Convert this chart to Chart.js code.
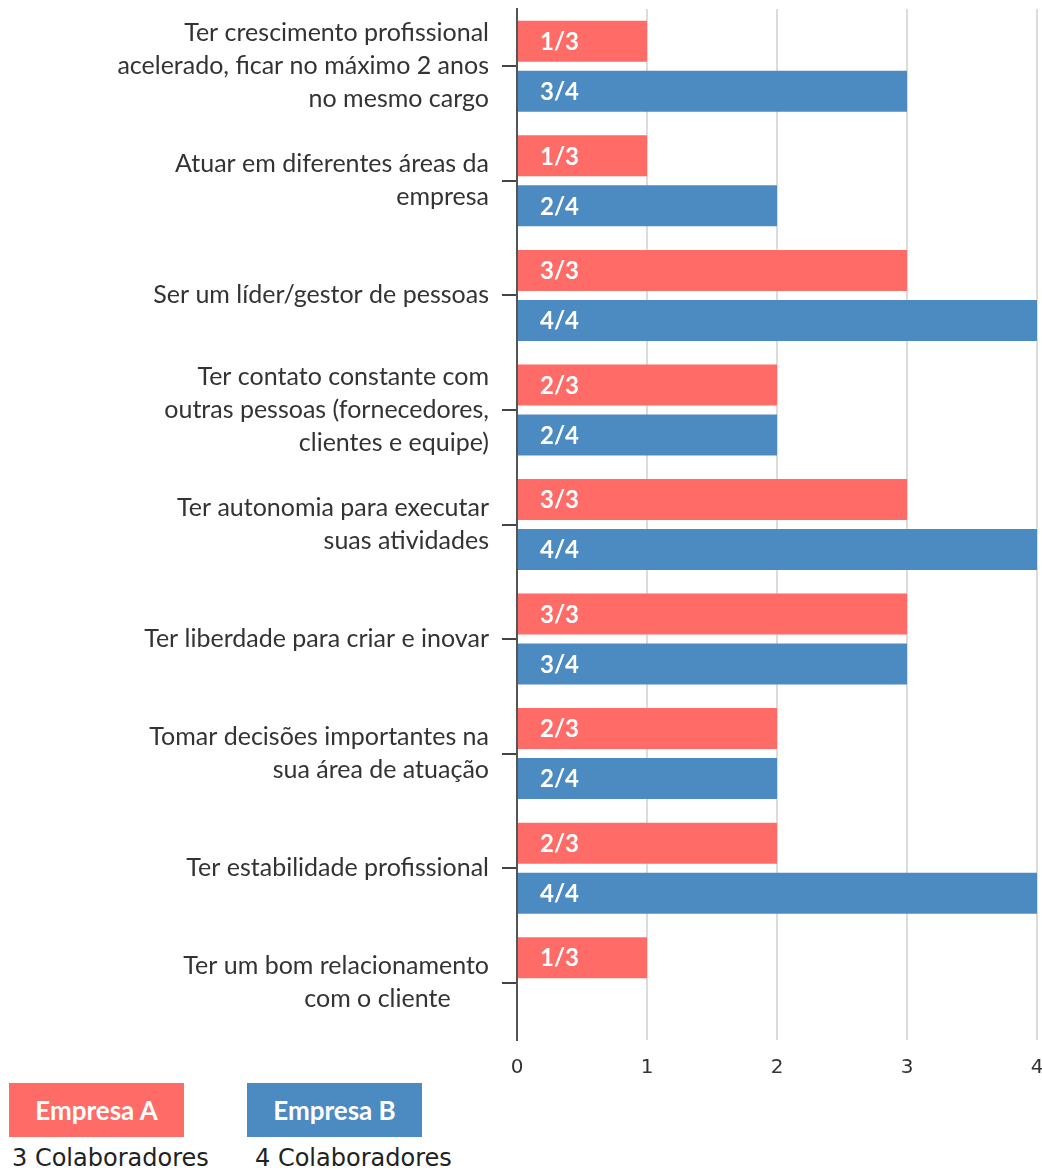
<!DOCTYPE html>
<html>
<head>
<meta charset="utf-8">
<script src="https://cdn.jsdelivr.net/npm/chart.js@4.4.1/dist/chart.umd.min.js"></script>
<style>
    body { margin: 0; background: #fff; width: 1042px; height: 1176px; position: relative; overflow: hidden; }
    #chartWrap { position: absolute; left: 0; top: 0; width: 1042px; height: 1096px; }
    .legend-box { position: absolute; top: 1083px; height: 54px; color: #fff; font-family: Lato, sans-serif; font-weight: bold; font-size: 26px; line-height: 54px; text-align: center; }
    .legend-sub { position: absolute; top: 1144px; font-family: "DejaVu Sans", sans-serif; font-size: 24px; color: #222; }
</style>
</head>
<body>
<div id="chartWrap"><canvas id="goalsChart"></canvas></div>

<div class="legend-box" id="legendA" style="left: 9px; width: 175px;"></div>
<div class="legend-box" id="legendB" style="left: 247px; width: 175px;"></div>
<div class="legend-sub" id="subA" style="left: 12px;"></div>
<div class="legend-sub" id="subB" style="left: 255px;"></div>

<script>
// Categories (y axis labels, multi-line)
const categories = [
    ['Ter crescimento profissional', 'acelerado, ficar no máximo 2 anos', 'no mesmo cargo'],
    ['Atuar em diferentes áreas da', 'empresa'],
    ['Ser um líder/gestor de pessoas'],
    ['Ter contato constante com', 'outras pessoas (fornecedores,', 'clientes e equipe)'],
    ['Ter autonomia para executar', 'suas atividades'],
    ['Ter liberdade para criar e inovar'],
    ['Tomar decisões importantes na', 'sua área de atuação'],
    ['Ter estabilidade profissional'],
    ['Ter um bom relacionamento', 'com o cliente      ']
];

// Series
const seriesNames = ['Empresa A', 'Empresa B'];
const empresaA = [1, 1, 3, 2, 3, 3, 2, 2, 1];
const empresaB = [3, 2, 4, 2, 4, 3, 2, 4, null];
const totals = [3, 4];
const colors = ['#FF6B66', '#4C8BC2'];

// X axis ticks
const xTicks = [0, 1, 2, 3, 4];

// Legend under the chart
document.getElementById('legendA').textContent = seriesNames[0];
document.getElementById('legendA').style.background = colors[0];
document.getElementById('legendB').textContent = seriesNames[1];
document.getElementById('legendB').style.background = colors[1];
document.getElementById('subA').textContent = totals[0] + ' Colaboradores';
document.getElementById('subB').textContent = totals[1] + ' Colaboradores';

// Draw "1/3", "3/4"... inside the bars
const barLabels = {
    id: 'barLabels',
    afterDatasetsDraw(chart) {
        const ctx = chart.ctx;
        ctx.save();
        ctx.fillStyle = '#fff';
        ctx.font = 'bold 24px Lato, sans-serif';
        ctx.textAlign = 'left';
        ctx.textBaseline = 'middle';
        chart.data.datasets.forEach((ds, di) => {
            const meta = chart.getDatasetMeta(di);
            meta.data.forEach((bar, i) => {
                const v = ds.data[i];
                if (v === null || v === undefined) return;
                ctx.fillText(v + '/' + totals[di], bar.base + 22, bar.y + 1);
            });
        });
        ctx.restore();
    }
};

const ctx = document.getElementById('goalsChart').getContext('2d');

new Chart(ctx, {
    type: 'bar',
    data: {
        labels: categories,
        datasets: [
            {
                label: seriesNames[0],
                data: empresaA,
                backgroundColor: colors[0],
                categoryPercentage: 0.873,
                barPercentage: 0.82
            },
            {
                label: seriesNames[1],
                data: empresaB,
                backgroundColor: colors[1],
                categoryPercentage: 0.873,
                barPercentage: 0.82
            }
        ]
    },
    options: {
        indexAxis: 'y',
        responsive: true,
        maintainAspectRatio: false,
        animation: false,
        layout: {
            padding: { top: 9, right: 0, left: 0, bottom: 0 }
        },
        plugins: {
            legend: { display: false },
            tooltip: { enabled: false }
        },
        scales: {
            x: {
                min: xTicks[0],
                max: xTicks[xTicks.length - 1],
                afterBuildTicks: scale => {
                    scale.ticks = xTicks.map(v => ({ value: v }));
                },
                afterFit: scale => {
                    scale.paddingLeft = 0;
                    scale.paddingRight = 5;
                },
                ticks: {
                    color: '#333',
                    padding: 16,
                    font: { family: 'DejaVu Sans', size: 20 }
                },
                grid: {
                    color: '#dcdcdc',
                    lineWidth: 2,
                    drawTicks: false
                },
                border: { display: false }
            },
            y: {
                afterFit: scale => {
                    scale.width = 517;
                    scale.paddingTop = 0;
                    scale.paddingBottom = 0;
                },
                ticks: {
                    color: '#333',
                    padding: 13,
                    font: { family: 'Lato', size: 25, lineHeight: 1.32 }
                },
                grid: {
                    offset: false,
                    drawOnChartArea: false,
                    drawTicks: true,
                    tickLength: 15,
                    color: '#444',
                    lineWidth: 2
                },
                border: {
                    display: true,
                    color: '#555',
                    width: 2
                }
            }
        }
    },
    plugins: [barLabels]
});
</script>
</body>
</html>
